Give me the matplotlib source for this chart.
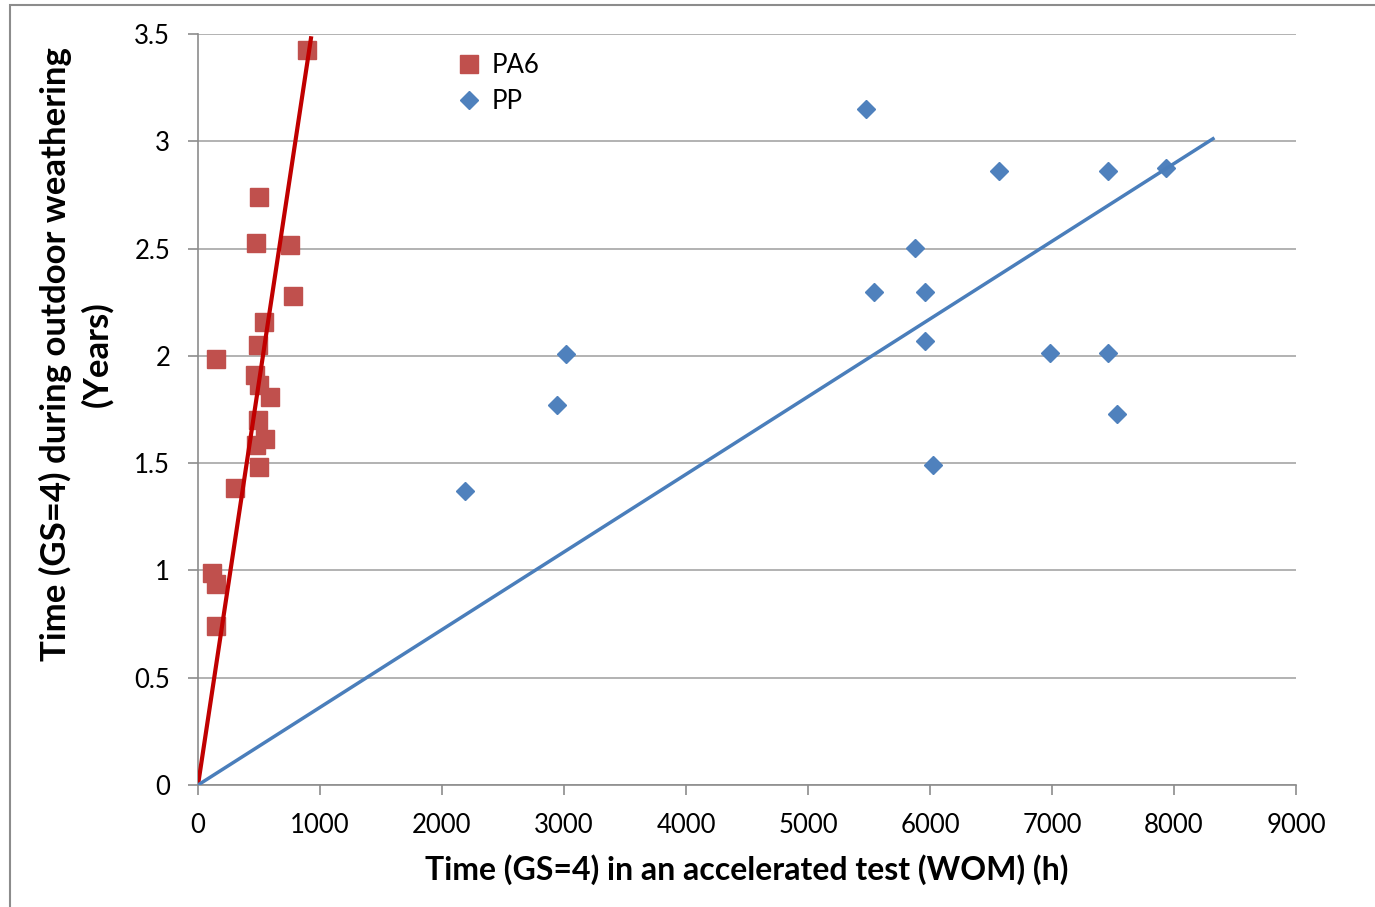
import numpy as np
import matplotlib.pyplot as plt
from matplotlib.patches import Rectangle

plt.rcParams['font.family'] = ['Lato', 'DejaVu Sans']

# PA6 data: accelerated test time (h) vs outdoor time (years)
pa6_x = [893, 500, 475, 754, 779, 541, 492, 148, 467, 500, 590, 492, 475, 549, 500, 303, 115, 148, 148]
pa6_y = [3.425, 2.74, 2.526, 2.517, 2.279, 2.158, 2.05, 1.985, 1.91, 1.864, 1.808, 1.70, 1.585, 1.612, 1.48, 1.384, 0.988, 0.937, 0.741]

# PP data
pp_x = [5476, 6566, 7460, 7936, 5878, 5542, 5960, 5960, 3017, 6985, 7460, 2943, 7534, 6026, 2189]
pp_y = [3.15, 2.862, 2.862, 2.876, 2.503, 2.298, 2.298, 2.069, 2.009, 2.013, 2.013, 1.771, 1.729, 1.491, 1.370]

# trendlines through the origin
pa6_slope = 0.003758
pa6_xmax = 926
pp_slope = 0.000362
pp_xmax = 8320

fig = plt.figure(figsize=(13.75, 9.07), dpi=100)
ax = fig.add_axes([0.144, 0.1345, 0.7985, 0.828])

# outer chart border
fig.patches.append(Rectangle((0.0075, -0.01), 1.5, 1.004, transform=fig.transFigure,
                             fill=False, edgecolor='#8c8c8c', linewidth=1.5))

ax.set_xlim(0, 9000)
ax.set_ylim(0, 3.5)
ax.set_xticks(np.arange(0, 9001, 1000))
ax.set_yticks(np.arange(0, 3.51, 0.5))
ax.set_yticklabels(['0', '0.5', '1', '1.5', '2', '2.5', '3', '3.5'])
ax.grid(axis='y', color='#a6a6a6', linewidth=1.2)
ax.set_axisbelow(True)
for s in ['top', 'right']:
    ax.spines[s].set_visible(False)
for s in ['left', 'bottom']:
    ax.spines[s].set_color('#8c8c8c')
    ax.spines[s].set_linewidth(1.2)
ax.tick_params(axis='both', colors='#8c8c8c', labelcolor='black', labelsize=18.5, length=7, width=1.2)
ax.tick_params(axis='x', pad=13)
ax.tick_params(axis='y', pad=13)

ax.plot(pa6_x, pa6_y, 's', color='#c0504d', markersize=13, label='PA6', zorder=3)
ax.plot(pp_x, pp_y, 'D', color='#4f81bd', markersize=9.5, label='PP', zorder=3)

lx = np.array([0, pa6_xmax])
ax.plot(lx, pa6_slope * lx, color='#c00000', linewidth=3, zorder=4)
lx = np.array([0, pp_xmax])
ax.plot(lx, pp_slope * lx, color='#4a7ebb', linewidth=2.5, zorder=4)

ax.legend(loc='upper left', bbox_to_anchor=(0.212, 1.005), frameon=False, fontsize=18.5,
          handletextpad=0.25, labelspacing=0.4, handlelength=1.2)

ax.set_xlabel('Time (GS=4) in an accelerated test (WOM) (h)', fontsize=23, fontweight='bold', labelpad=12)
ax.set_ylabel('Time (GS=4) during outdoor weathering\n(Years)', fontsize=25, fontweight='bold',
              linespacing=1.35)
ax.yaxis.set_label_coords(-0.077, 0.574)

fig.savefig('out.png', dpi=100)
